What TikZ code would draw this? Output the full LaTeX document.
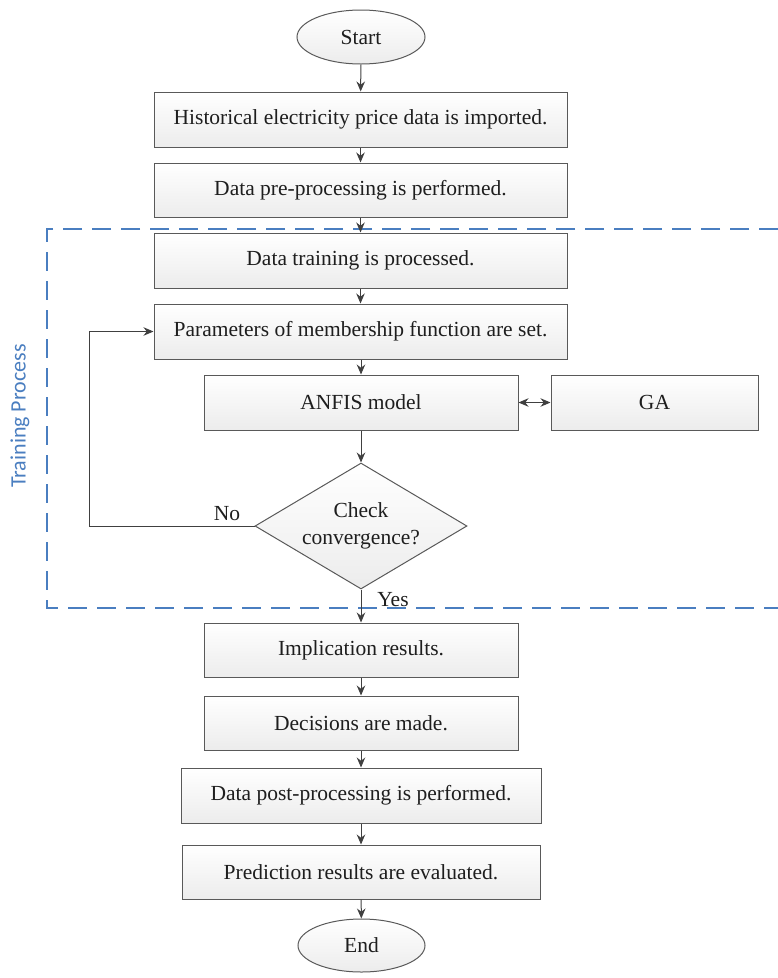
\documentclass[tikz,border=0pt]{standalone}
\usepackage{fontspec}
\setmainfont{Liberation Serif}
\newfontfamily\calib{Carlito}
\usetikzlibrary{shapes.geometric,arrows.meta}
\definecolor{edgec}{HTML}{595959}
\definecolor{arrc}{HTML}{404040}
\definecolor{txtc}{HTML}{1E1E1E}
\definecolor{dashc}{HTML}{4A7EC0}
\definecolor{fillb}{HTML}{ECECEC}
\tikzset{
  base/.style={draw=edgec, line width=1pt, top color=white, bottom color=fillb, text=txtc,
    inner sep=0pt, font=\fontsize{21.5}{24}\selectfont},
  box/.style={base, rectangle},
  term/.style={base, ellipse},
  decide/.style={base, diamond, shape aspect=1.68, align=center,
    font=\fontsize{21.5}{27}\selectfont},
  arr/.style={draw=arrc, line width=1pt, -{Stealth[length=10pt,width=8.5pt]}},
  darr/.style={draw=arrc, line width=1pt, {Stealth[length=10pt,width=8.5pt]}-{Stealth[length=10pt,width=8.5pt]}},
  lbl/.style={text=txtc, inner sep=0pt, font=\fontsize{21.5}{24}\selectfont},
}
\begin{document}
\begin{tikzpicture}[x=1pt,y=-1pt]
\useasboundingbox (0,0) rectangle (778,978);
% training region
\draw[dashc, line width=2.8pt, dash pattern=on 19pt off 10pt]
  (778,229) -- (47,229) -- (47,608) -- (778,608);
\node[rotate=90, text=dashc, inner sep=0pt, font=\calib\fontsize{22}{24}\selectfont] (tp) at (20,416) {Training Process};

\node[term, minimum width=128, minimum height=54] (start) at (361,37) {Start};
\node[box, minimum width=413, minimum height=55] (b1) at (360.5,119.5) {Historical electricity price data is imported.};
\node[box, minimum width=413, minimum height=54] (b2) at (360.5,190) {Data pre-processing is performed.};
\node[box, minimum width=413, minimum height=55] (b3) at (360.5,260.5) {Data training is processed.};
\node[box, minimum width=413, minimum height=55] (b4) at (360.5,331.5) {Parameters of membership function are set.};
\node[box, minimum width=314, minimum height=55] (anfis) at (361,402.5) {ANFIS model};
\node[box, minimum width=207, minimum height=55] (ga) at (654.5,402.5) {GA};
\node[decide, minimum width=212, minimum height=126] (dia) at (361,526) {Check\\convergence?};
\node[box, minimum width=314, minimum height=54] (impl) at (361,650) {Implication results.};
\node[box, minimum width=314, minimum height=54] (dec) at (361,723) {Decisions are made.};
\node[box, minimum width=360, minimum height=55] (post) at (361,795.5) {Data post-processing is performed.};
\node[box, minimum width=358, minimum height=54] (pred) at (361,872) {Prediction results are evaluated.};
\node[term, minimum width=127, minimum height=53] (end) at (361.5,945.5) {End};

\node[lbl] (no) at (227,514) {No};
\node[lbl] (yes) at (393,600) {Yes};

\coordinate (lp) at (89,526);

\draw[arr] (start) -- (b1);
\draw[arr] (b1) -- (b2);
\draw[arr] (b2) -- (b3);
\draw[arr] (b3) -- (b4);
\draw[arr] (b4.south -| anfis.north) -- (anfis.north);
\draw[arr] (anfis) -- (dia);
\draw[arr] (dia) -- (impl);
\draw[arr] (impl) -- (dec);
\draw[arr] (dec) -- (post);
\draw[arr] (post) -- (pred);
\draw[arr] (pred) -- (end);
\draw[darr] (anfis) -- (ga);
\draw[arr] (dia.west) -- (lp) |- (b4.west);
\end{tikzpicture}
\end{document}
